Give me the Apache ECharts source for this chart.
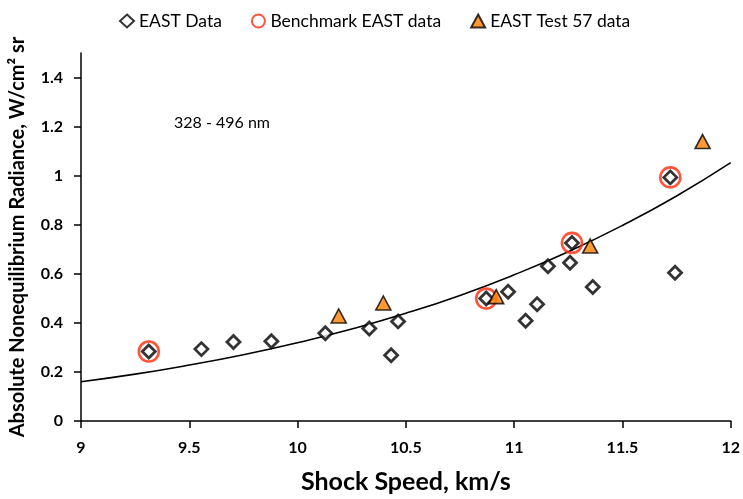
<!DOCTYPE html>
<html>
<head>
<meta charset="utf-8">
<script src="https://cdn.jsdelivr.net/npm/echarts@6/dist/echarts.min.js"></script>
<style>
html,body{margin:0;padding:0;background:#fff;}
#chart{width:743px;height:499px;}
</style>
</head>
<body>
<div id="chart"></div>
<script>
// EAST Data (diamonds)
var eastX = [9.313, 9.556, 9.704, 9.879, 10.128, 10.331, 10.464, 10.432, 10.871, 10.972, 11.053, 11.106, 11.156, 11.258, 11.267, 11.363, 11.721, 11.743];
var eastY = [0.283, 0.293, 0.322, 0.325, 0.358, 0.377, 0.406, 0.268, 0.499, 0.527, 0.409, 0.476, 0.631, 0.645, 0.726, 0.546, 0.993, 0.604];
// Benchmark EAST data (red circles)
var benchX = [9.313, 10.871, 11.267, 11.721];
var benchY = [0.283, 0.499, 0.726, 0.993];
// EAST Test 57 data (orange triangles)
var testX = [10.19, 10.396, 10.917, 11.351, 11.870];
var testY = [0.428, 0.481, 0.507, 0.713, 1.139];
// Fit curve
var fitX = [9, 9.25, 9.5, 9.75, 10, 10.25, 10.5, 10.75, 11, 11.25, 11.5, 11.75, 12];
var fitY = [0.160, 0.191, 0.228, 0.270, 0.319, 0.375, 0.439, 0.512, 0.596, 0.690, 0.797, 0.917, 1.053];
// Ticks
var yTicks = [0, 0.2, 0.4, 0.6, 0.8, 1, 1.2, 1.4];

function pairs(xs, ys) { return xs.map(function (x, i) { return [x, ys[i]]; }); }

var FONT = 'Lato, "Open Sans", sans-serif';
var chart = echarts.init(document.getElementById('chart'), null, {renderer: 'canvas'});
chart.setOption({
  animation: false,
  backgroundColor: '#ffffff',
  textStyle: {fontFamily: FONT},
  grid: {left: 81, right: 10, top: 53, bottom: 77},
  legend: {
    left: 114, top: 7,
    itemWidth: 14, itemHeight: 13, itemGap: 29,
    textStyle: {fontFamily: FONT, fontSize: 17.5, color: '#000'},
    data: [
      {name: 'EAST Data', icon: 'diamond'},
      {name: 'Benchmark EAST data', icon: 'circle'},
      {name: 'EAST Test 57 data', icon: 'triangle'}
    ]
  },
  xAxis: {
    type: 'value', min: 9, max: 12, interval: 0.5,
    name: 'Shock Speed, km/s', nameLocation: 'middle', nameGap: 48,
    nameTextStyle: {fontFamily: FONT, fontSize: 25, fontWeight: 'bold', color: '#000'},
    axisLine: {lineStyle: {color: '#000', width: 1.5}},
    axisTick: {show: true, inside: false, length: 7, lineStyle: {color: '#000', width: 1.5}},
    axisLabel: {margin: 19, fontFamily: FONT, fontSize: 16, fontWeight: 'bold', color: '#000'},
    splitLine: {show: false}
  },
  yAxis: {
    type: 'value', min: 0, max: 1.5, interval: 0.2,
    name: 'Absolute Nonequilibrium Radiance, W/cm² sr', nameLocation: 'middle', nameGap: 53,
    nameTextStyle: {fontFamily: FONT, fontSize: 20, fontWeight: 'bold', color: '#000'},
    axisLine: {show: true, lineStyle: {color: '#000', width: 1.5}},
    axisTick: {show: true, inside: false, length: 7, customValues: yTicks, lineStyle: {color: '#000', width: 1.5}},
    axisLabel: {margin: 18, customValues: yTicks, fontFamily: FONT, fontSize: 16, fontWeight: 'bold', color: '#000'},
    splitLine: {show: false}
  },
  graphic: [{
    type: 'text', left: 174, top: 115,
    style: {text: '328 - 496 nm', fontFamily: FONT, fontSize: 16, fill: '#000'}
  }],
  series: [
    {
      name: 'fit', type: 'line', data: pairs(fitX, fitY), smooth: true,
      showSymbol: false, symbol: 'none', lineStyle: {color: '#000', width: 1.6}, z: 1, silent: true
    },
    {
      name: 'EAST Data', type: 'scatter', data: pairs(eastX, eastY), symbol: 'diamond', symbolSize: 13,
      itemStyle: {color: '#fff', borderColor: '#000', borderWidth: 2.8}, z: 2
    },
    {
      name: 'Benchmark EAST data', type: 'scatter', data: pairs(benchX, benchY), symbol: 'circle', symbolSize: 20,
      itemStyle: {color: 'rgba(0,0,0,0)', borderColor: '#ff2a0a', borderWidth: 2.6}, z: 3
    },
    {
      name: 'EAST Test 57 data', type: 'scatter', data: pairs(testX, testY), symbol: 'triangle', symbolSize: [15, 14],
      itemStyle: {color: '#ff8000', borderColor: '#000', borderWidth: 1.6}, z: 4
    }
  ]
});
</script>
</body>
</html>
